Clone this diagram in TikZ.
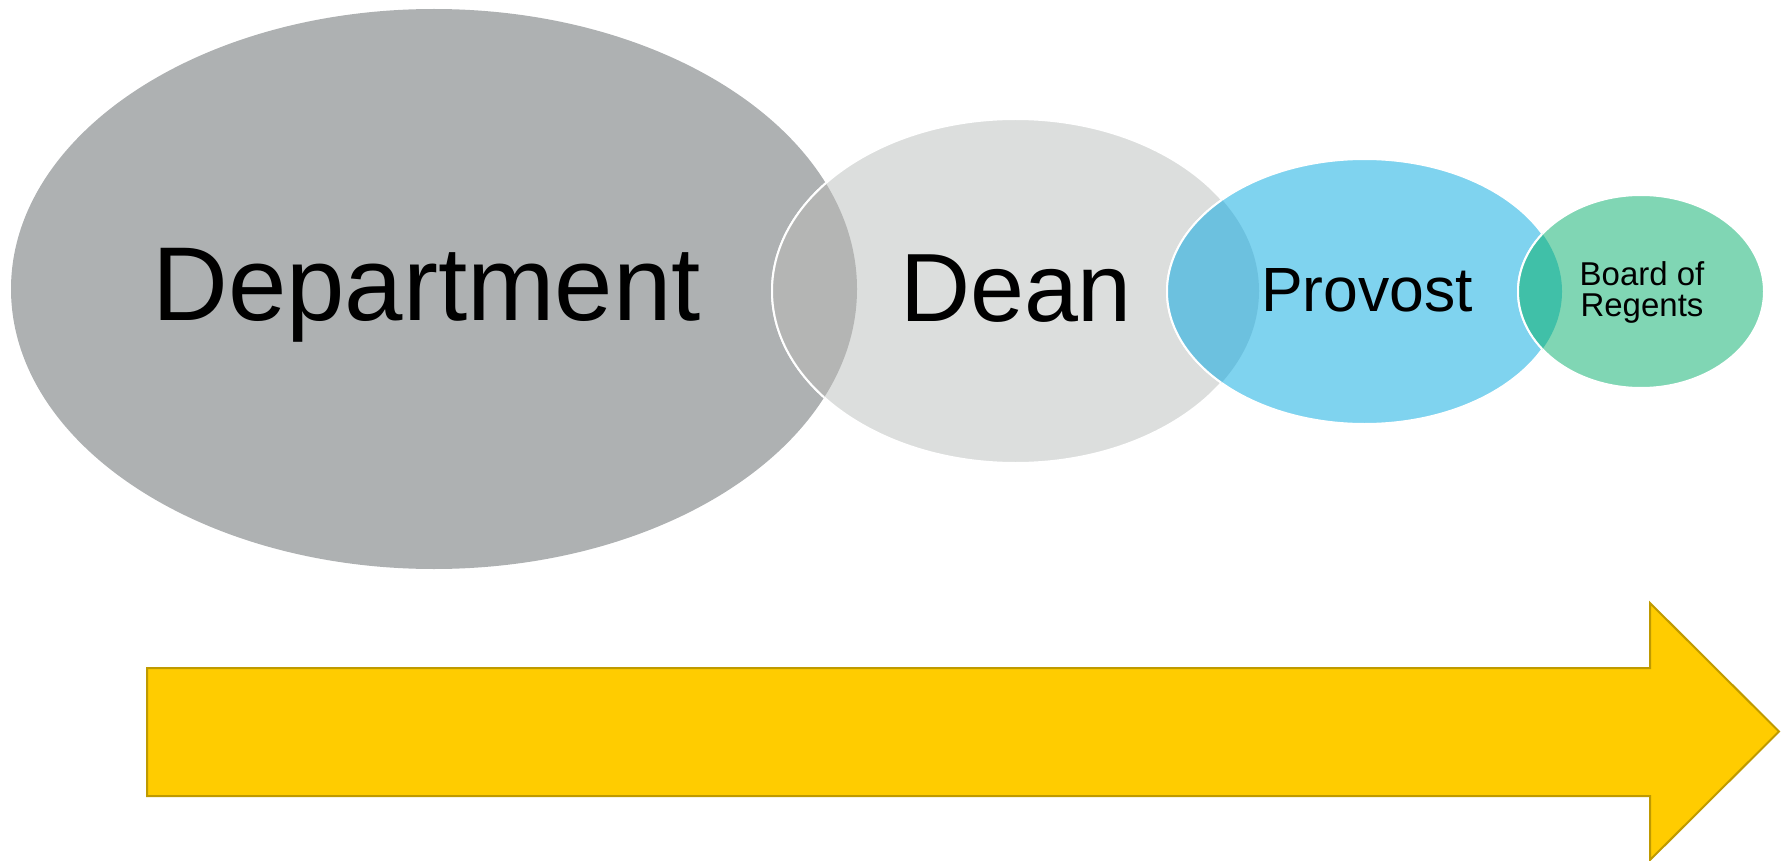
\documentclass[tikz,border=0pt]{standalone}
\usepackage{fontspec}
\setmainfont{Liberation Sans}
\definecolor{deptfill}{HTML}{AEB1B2}
\definecolor{deanfill}{HTML}{DCDEDD}
\definecolor{provfill}{HTML}{7FD3EF}
\definecolor{boardfill}{HTML}{80D6B4}
\definecolor{deptdean}{HTML}{B4B5B4}
\definecolor{deanprov}{HTML}{6CC1DF}
\definecolor{provboard}{HTML}{40C0A8}
\definecolor{flowfill}{HTML}{FFCC00}
\definecolor{flowline}{HTML}{BF9A00}
\tikzset {
  % sizes of the four ellipses
  dept size/.style = {x radius = 423pt, y radius = 280pt},
  dean size/.style = {x radius = 243.5pt, y radius = 172pt},
  prov size/.style = {x radius = 197.5pt, y radius = 132.5pt},
  board size/.style = {x radius = 123pt, y radius = 96.5pt},
  % white rim of each ellipse
  rim/.style = {
    draw = white,
    line width = 2pt
  },
  % level label
  level/.style = {
    inner sep = 0,
    text = black
  },
  % big block arrow
  flow/.style = {
    fill = flowfill,
    draw = flowline,
    line width = 2pt,
    line join = miter
  }
}

\begin{document}
\begin{tikzpicture}[x=1pt, y=-1pt]
    \useasboundingbox (0,0) rectangle (1785,861);
    \coordinate (dept) at (434,289);
    \coordinate (dean) at (1015.5,291);
    \coordinate (prov) at (1364.5,291.5);
    \coordinate (board) at (1641,291.5);

    % ellipses, left to right
    \fill[deptfill] (dept) ellipse [dept size];
    \path[rim, fill = deanfill] (dean) ellipse [dean size];
    \path[rim, fill = provfill] (prov) ellipse [prov size];
    \path[rim, fill = boardfill] (board) ellipse [board size];

    % overlaps
    \begin{scope}
      \clip (dept) ellipse [dept size];
      \fill[deptdean] (dean) ellipse [dean size];
      \draw[rim] (dean) ellipse [dean size];
    \end{scope}
    \begin{scope}
      \clip (dean) ellipse [dean size];
      \fill[deanprov] (prov) ellipse [prov size];
      \draw[rim] (prov) ellipse [prov size];
    \end{scope}
    \begin{scope}
      \clip (prov) ellipse [prov size];
      \fill[provboard] (board) ellipse [board size];
      \draw[rim] (board) ellipse [board size];
    \end{scope}

    \node[level, anchor = base, font = \fontsize{105}{110}\selectfont] (dept-text) at (426.5,320) {Department};
    \node[level, anchor = base, font = \fontsize{97}{100}\selectfont] (dean-text) at (1016,321.5) {Dean};
    \node[level, anchor = base, font = \fontsize{62.5}{66}\selectfont] (prov-text) at (1367,311) {Provost};
    \node[level, anchor = north, align = center, font = \fontsize{33}{31}\selectfont] (board-text) at (1642,261) {Board of\\Regents};

    \draw[flow] (147,668) -- (1650,668) -- (1650,603) -- (1779,731.5)
      -- (1650,860) -- (1650,796) -- (147,796) -- cycle;
  \end{tikzpicture}
\end{document}
